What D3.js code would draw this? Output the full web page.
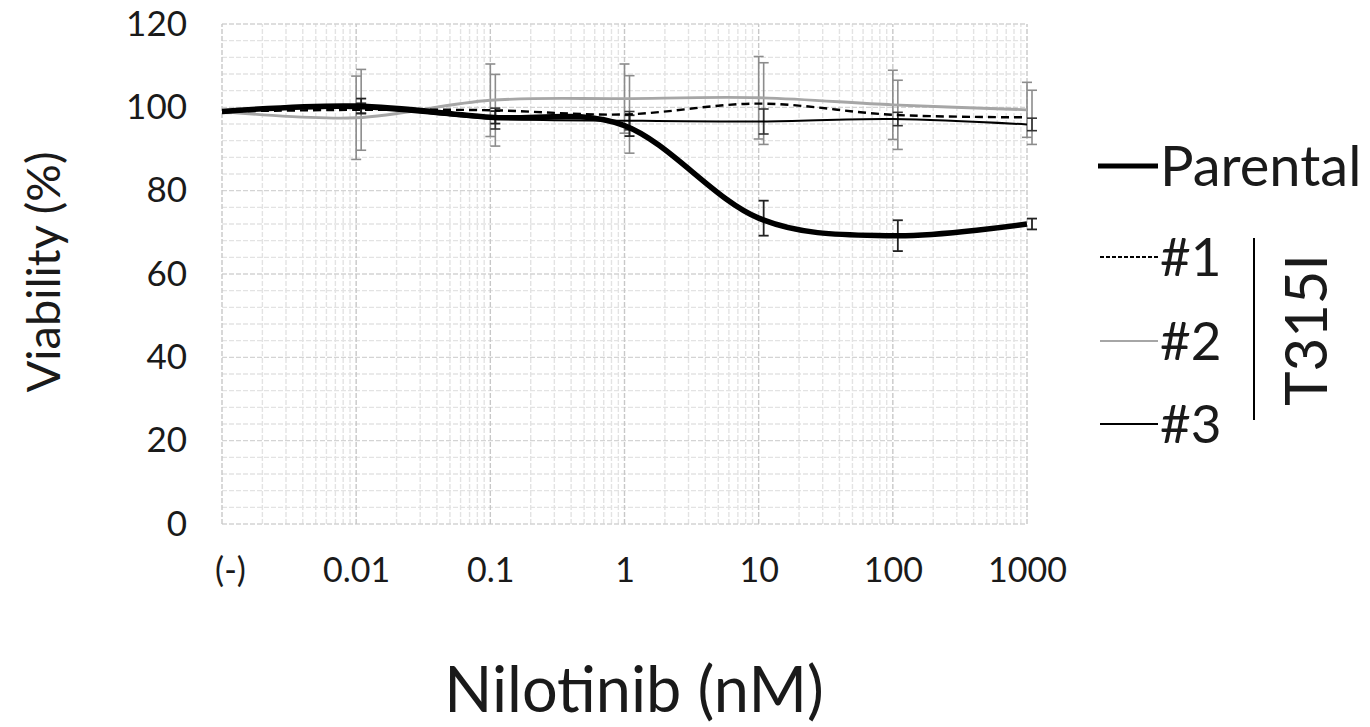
<!DOCTYPE html>
<html><head><meta charset="utf-8">
<script src="https://cdn.jsdelivr.net/npm/d3@7"></script>
<style>body{margin:0;background:#fff}svg{display:block}text{font-family:Lato,"Open Sans",sans-serif;fill:#1a1a1a}</style>
</head><body><svg id="c" width="1370" height="727"></svg>
<script>
// data
const doses = [0.001, 0.01, 0.1, 1, 10, 100, 1000];
const doseLabels = ["(-)", "0.01", "0.1", "1", "10", "100", "1000"];
const yTicks = [0, 20, 40, 60, 80, 100, 120];
const parental = [99, 100.3, 97.6, 95.6, 73.4, 69.2, 72];
const parentalErr = [0.4, 1.8, 1.5, 2.5, 4.2, 3.7, 1.3];
const t1 = [99, 99.4, 99.3, 98.3, 100.9, 98.2, 97.6];
const t1Err = [0, 9.7, 8.6, 9.3, 9.8, 8.3, 6.5];
const t2 = [99, 97.5, 101.7, 102.1, 102.3, 100.6, 99.4];
const t2Err = [0, 10, 8.7, 8.3, 9.9, 8.3, 6.6];
const t3 = [99, 99.8, 97.3, 96.8, 96.6, 97.2, 95.9];
const t3Err = [0, 1.2, 2.5, 2.2, 3.0, 1.6, 1.5];

const svg = d3.select("#c");
const x = d3.scaleLog().domain([0.001, 1000]).range([222, 1027]);
const y = d3.scaleLinear().domain([0, 120]).range([524, 24]);

const grid = svg.append("g");
const minorX = [];
for (let e = -3; e < 3; e++) for (let k = 2; k <= 9; k++) minorX.push(k * Math.pow(10, e));
grid.selectAll(".mvx").data(minorX).join("line")
  .attr("x1", d => x(d)).attr("x2", d => x(d)).attr("y1", y(0)).attr("y2", y(120))
  .attr("stroke", "#e3e3e3").attr("stroke-width", 1.4).attr("stroke-dasharray", "5,2");
const minorY = d3.range(0, 121, 4).filter(v => v % 20 !== 0);
grid.selectAll(".mhy").data(minorY).join("line")
  .attr("x1", x(0.001)).attr("x2", x(1000)).attr("y1", d => y(d)).attr("y2", d => y(d))
  .attr("stroke", "#e3e3e3").attr("stroke-width", 1.4).attr("stroke-dasharray", "5,2");
grid.selectAll(".My").data(yTicks).join("line")
  .attr("x1", x(0.001)).attr("x2", x(1000)).attr("y1", d => y(d)).attr("y2", d => y(d))
  .attr("stroke", "#d4d4d4").attr("stroke-width", 1.4).attr("stroke-dasharray", "5,2");
grid.selectAll(".Mx").data(doses).join("line")
  .attr("x1", d => x(d)).attr("x2", d => x(d)).attr("y1", y(0)).attr("y2", y(120))
  .attr("stroke", "#c8c8c8").attr("stroke-width", 1.4).attr("stroke-dasharray", "5,2");

const yAxis = d3.axisLeft(y).tickValues(yTicks).tickSize(0).tickPadding(35);
svg.append("g").attr("transform", `translate(${x(0.001)},0)`).call(yAxis)
  .call(g => g.select(".domain").remove())
  .selectAll("text").style("font-family", "Lato").style("font-size", "35px").attr("fill", "#1a1a1a");
const xAxis = d3.axisBottom(x).tickValues(doses).tickFormat((d, i) => doseLabels[i]).tickSize(0).tickPadding(34);
svg.append("g").attr("transform", `translate(0,${y(0)})`).call(xAxis)
  .call(g => g.select(".domain").remove())
  .selectAll("text").style("font-family", "Lato").style("font-size", "34px").attr("fill", "#1a1a1a")
  .attr("dx", (d, i) => i === 0 ? 8 : 0);

svg.append("text").attr("transform", "translate(60,272) rotate(-90)")
  .attr("text-anchor", "middle").style("font-size", "47px").text("Viability (%)");
svg.append("text").attr("x", 634).attr("y", 712).attr("text-anchor", "middle")
  .style("font-size", "63px").text("Nilotinib (nM)");

function errBars(vals, errs, color, off, width) {
  const g = svg.append("g").attr("stroke", color).attr("stroke-width", width).attr("fill", "none");
  doses.forEach((d, i) => {
    if (!errs[i]) return;
    const cx = x(d) + off, t = y(vals[i] + errs[i]), b = y(vals[i] - errs[i]);
    g.append("line").attr("x1", cx).attr("x2", cx).attr("y1", t).attr("y2", b);
    g.append("line").attr("x1", cx - 5).attr("x2", cx + 5).attr("y1", t).attr("y2", t);
    g.append("line").attr("x1", cx - 5).attr("x2", cx + 5).attr("y1", b).attr("y2", b);
  });
}
errBars(t2, t2Err, "#8c8c8c", 0, 1.6);
errBars(t1, t1Err, "#8c8c8c", 5, 1.6);
errBars(t3, t3Err, "#333", 5, 1.6);
errBars(parental, parentalErr, "#222", 5, 1.8);

const line = d3.line().x((d, i) => x(doses[i])).y(d => y(d)).curve(d3.curveCardinal.tension(0));
svg.append("path").attr("d", line(t2)).attr("fill", "none").attr("stroke", "#a6a6a6").attr("stroke-width", 2.8);
svg.append("path").attr("d", line(t3)).attr("fill", "none").attr("stroke", "#000").attr("stroke-width", 2);
svg.append("path").attr("d", line(t1)).attr("fill", "none").attr("stroke", "#000").attr("stroke-width", 2.4).attr("stroke-dasharray", "8,5");
svg.append("path").attr("d", line(parental)).attr("fill", "none").attr("stroke", "#000").attr("stroke-width", 5.5);

const legendItems = [
  {name: "Parental", y: 166, stroke: "#000", w: 5, dash: null, x1: 1098, fs: 56},
  {name: "#1", y: 257, stroke: "#000", w: 1.8, dash: "4,2", x1: 1100, fs: 53},
  {name: "#2", y: 341, stroke: "#a6a6a6", w: 2, dash: null, x1: 1100, fs: 53},
  {name: "#3", y: 424, stroke: "#000", w: 1.8, dash: null, x1: 1100, fs: 53}
];
const lg = svg.append("g");
legendItems.forEach(it => {
  lg.append("line").attr("x1", it.x1).attr("x2", 1158).attr("y1", it.y).attr("y2", it.y)
    .attr("stroke", it.stroke).attr("stroke-width", it.w).attr("stroke-dasharray", it.dash);
  lg.append("text").attr("x", 1160).attr("y", it.y).attr("dy", "0.36em")
    .style("font-size", it.fs + "px").text(it.name);
});
lg.append("line").attr("x1", 1254).attr("x2", 1254).attr("y1", 238).attr("y2", 420).attr("stroke", "#000").attr("stroke-width", 2);
lg.append("text").attr("transform", "translate(1327,330) rotate(-90)").attr("text-anchor", "middle")
  .style("font-size", "58px").text("T315I");
</script></body></html>
